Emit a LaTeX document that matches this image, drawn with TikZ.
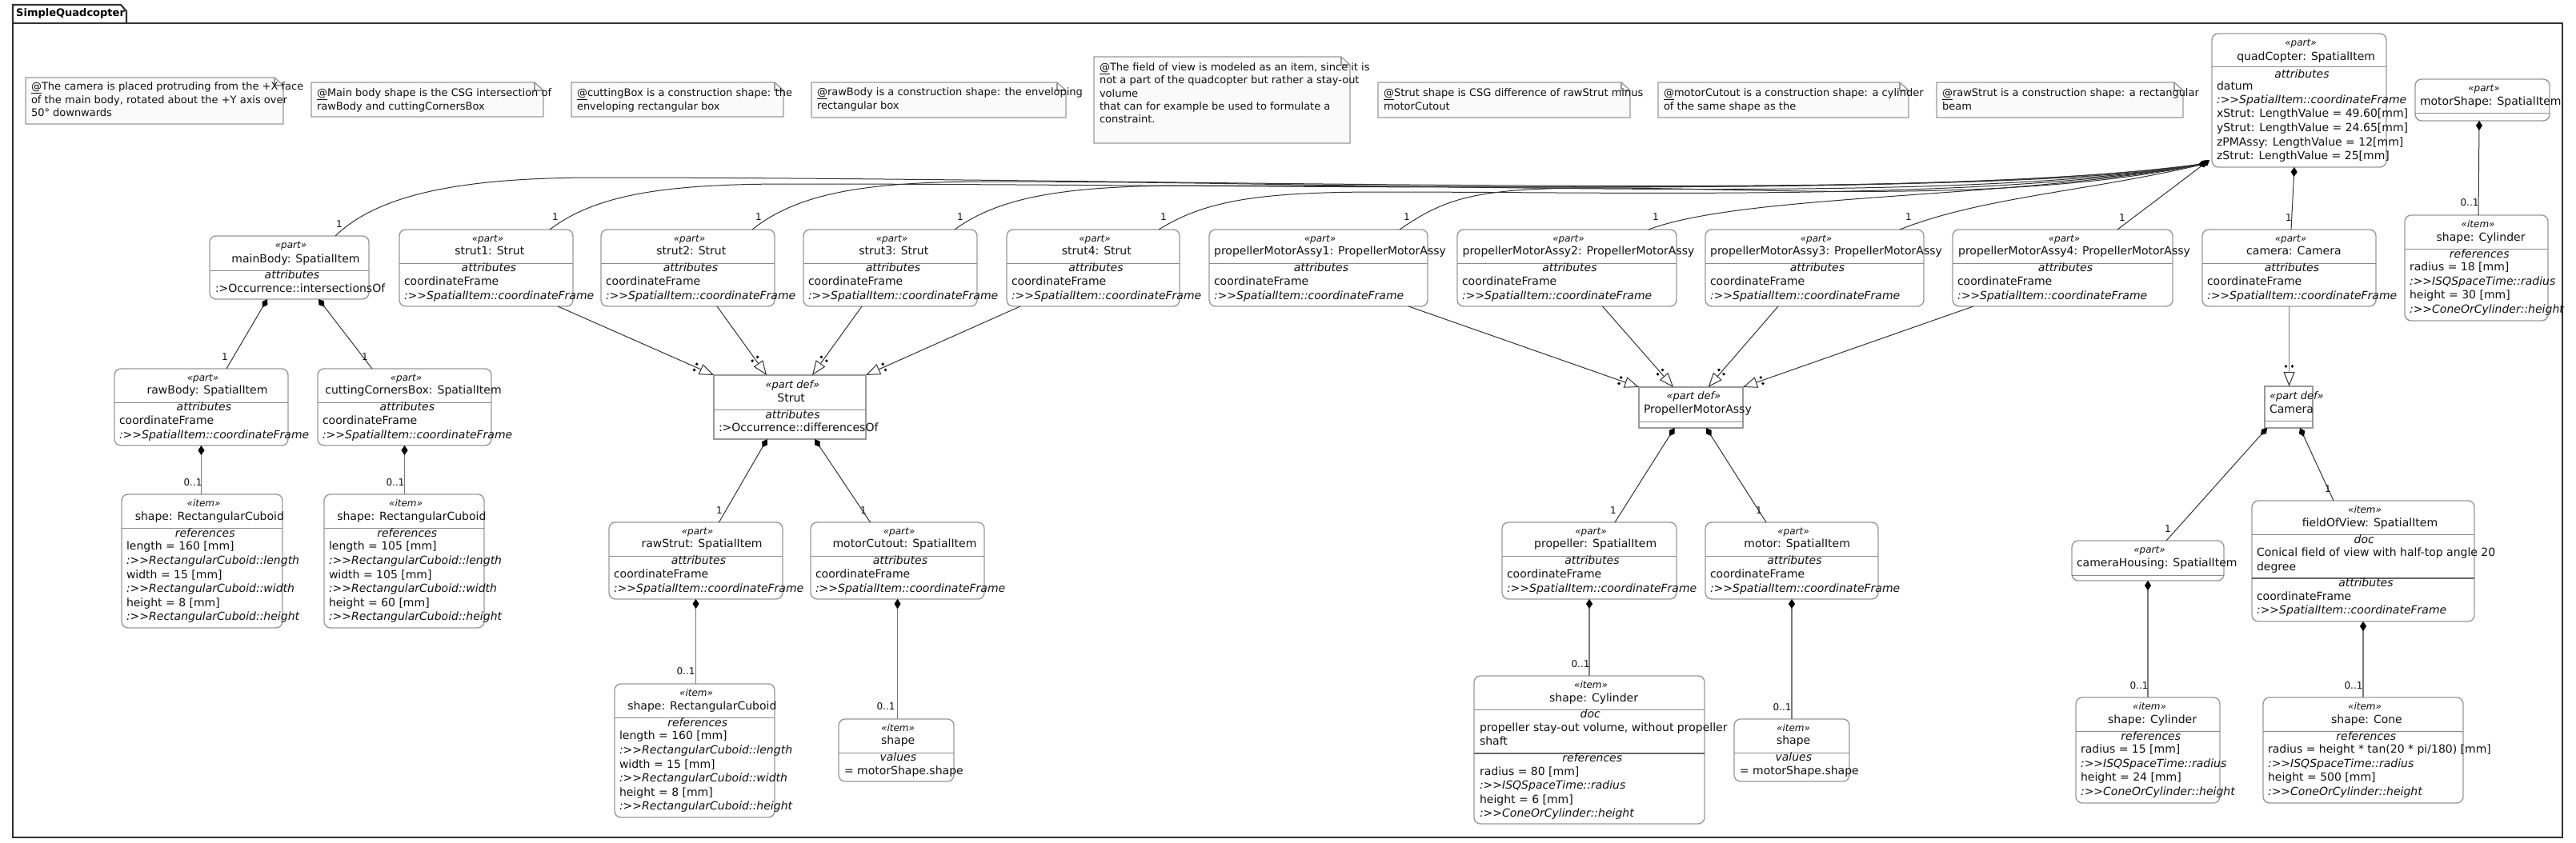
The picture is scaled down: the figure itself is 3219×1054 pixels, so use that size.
\documentclass[tikz,border=0pt]{standalone}
\usepackage{fontspec}
\setmainfont{DejaVu Sans}
\usetikzlibrary{arrows.meta,calc}

\definecolor{bx}{HTML}{9A9A9A}
\definecolor{dvc}{HTML}{8A8A8A}
\definecolor{dvd}{HTML}{666666}
\definecolor{lnc}{HTML}{333333}
\definecolor{lnv}{HTML}{7A7A7A}
\definecolor{nc}{HTML}{9A9A9A}
\definecolor{nf}{HTML}{FAFAFA}
\definecolor{frc}{HTML}{333333}
\definecolor{txc}{HTML}{111111}

\newsavebox\tbox
\newcounter{lbl}
\newcommand\DGT{>\kern0pt>}
\newcommand\FSt{\fontsize{12}{14}\selectfont\itshape}
\newcommand\FSd{\fontsize{13}{15}\selectfont\itshape}
\newcommand\FN{\fontsize{14}{17}\selectfont}
\newcommand\FI{\fontsize{14}{17}\selectfont\itshape}
\newcommand\FM{\fontsize{12}{14}\selectfont}
\newcommand\FNo{\fontsize{13}{16}\selectfont}

% centred text line: x1 x2 y font text
\newcommand\CT[5]{%
  \pgfinterruptpicture\global\setbox\tbox=\hbox{#4#5}\endpgfinterruptpicture
  \edef\wnum{\the\wd\tbox}%
  \pgfmathsetmacro\lx{max(#1+6,(#1+#2)/2-0.45*\wnum)}%
  \stepcounter{lbl}%
  \node[txt] (t\arabic{lbl}) at (\lx,#3) {#4#5};}
% left text line: x y font text
\newcommand\LT[4]{%
  \stepcounter{lbl}%
  \node[txt] (t\arabic{lbl}) at (#1,#2) {#3#4};}
% multiplicity label
\newcommand\ML[3]{%
  \stepcounter{lbl}%
  \node[mult] (m\arabic{lbl}) at (#1,#2) {#3};}
% box: style name x1 y1 x2 y2
\newcommand\BX[6]{%
  \node[#1, minimum width={#5-#3}, minimum height={#6-#4}] (#2) at ({(#3+#5)/2},{(#4+#6)/2}) {};}
% divider: [style] x1 x2 y
\newcommand\DV[4][dv]{\draw[#1] (#2,#4) -- (#3,#4);}
% note: name x1 y1 x2 y2
\newcommand\NOTE[5]{%
  \node[nbox, minimum width={#4-#2}, minimum height={#5-#3}] (#1) at ({(#2+#4)/2},{(#3+#5)/2}) {};
  \draw[noteline] (#1.south west) -- (#1.north west) -- ([xshift=-11pt]#1.north east) -- ([yshift=-10pt]#1.north east) -- (#1.south east) -- cycle;
  \draw[noteline, fill=none] ([xshift=-11pt]#1.north east) -- ([xshift=-11pt,yshift=-10pt]#1.north east) -- ([yshift=-10pt]#1.north east);}
% part with coordinateFrame attribute: name x1 y1 x2 title
\newcommand\PartBox[5]{%
  \BX{rbox}{#1}{#2}{#3}{#4}{#3+96}%
  \DV{#2}{#4}{#3+42}%
  \CT{#2}{#4}{#3+13}{\FSt}{«part»}%
  \CT{#2}{#4}{#3+29}{\FN}{#5}%
  \CT{#2}{#4}{#3+50}{\FI}{attributes}%
  \LT{#2+6}{#3+67}{\FN}{coordinateFrame}%
  \LT{#2+6}{#3+85}{\FI}{:\DGT SpatialItem::coordinateFrame}}
% cuboid item: name x1 y1 x2 L W H
\newcommand\CubBox[7]{%
  \BX{rbox}{#1}{#2}{#3}{#4}{#3+167}%
  \DV{#2}{#4}{#3+42}%
  \CT{#2}{#4}{#3+13}{\FSt}{«item»}%
  \CT{#2}{#4}{#3+30}{\FN}{shape: RectangularCuboid}%
  \CT{#2}{#4}{#3+51}{\FI}{references}%
  \LT{#2+6}{#3+67}{\FN}{length = #5 [mm]}%
  \LT{#2+6}{#3+85}{\FI}{:\DGT RectangularCuboid::length}%
  \LT{#2+6}{#3+103}{\FN}{width = #6 [mm]}%
  \LT{#2+6}{#3+120}{\FI}{:\DGT RectangularCuboid::width}%
  \LT{#2+6}{#3+138}{\FN}{height = #7 [mm]}%
  \LT{#2+6}{#3+155}{\FI}{:\DGT RectangularCuboid::height}}
% value item: name x1 y1 x2
\newcommand\ValBox[4]{%
  \BX{rbox}{#1}{#2}{#3}{#4}{#3+78}%
  \DV{#2}{#4}{#3+42}%
  \CT{#2}{#4}{#3+13}{\FSt}{«item»}%
  \CT{#2}{#4}{#3+29}{\FN}{shape}%
  \CT{#2}{#4}{#3+50}{\FI}{values}%
  \LT{#2+7}{#3+67}{\FN}{= motorShape.shape}}
% cylinder/cone item: name x1 y1 x2 r h title
\newcommand\CylBox[7]{%
  \BX{rbox}{#1}{#2}{#3}{#4}{#3+132}%
  \DV{#2}{#4}{#3+42}%
  \CT{#2}{#4}{#3+13}{\FSt}{«item»}%
  \CT{#2}{#4}{#3+30}{\FN}{#7}%
  \CT{#2}{#4}{#3+51}{\FI}{references}%
  \LT{#2+6}{#3+67}{\FN}{radius = #5 [mm]}%
  \LT{#2+6}{#3+85}{\FI}{:\DGT ISQSpaceTime::radius}%
  \LT{#2+6}{#3+102}{\FN}{height = #6 [mm]}%
  \LT{#2+6}{#3+120}{\FI}{:\DGT ConeOrCylinder::height}}
% curved composition to quadCopter: start mx my a c2x c2y
\newcommand\QC[6]{%
  \draw[compq] (#1) .. controls ($(#1)+(60,#3*0.8)$) and ($(#1)+(#2-150,#3)$) .. ($(#1)+(#2,#3)$)
     .. controls ($(#1)+(#2+#4,#3)$) and ($(Q)+(#5,#6)$) .. (Q);}
% defined-by connector: [style] from to
\newcommand\DefBy[3][defby]{%
  \draw[#1] (#2) -- (#3);
  \fill[dotc] ($(#3)!25pt!(#2)!4pt!90:(#2)$) circle (1.9pt);
  \fill[dotc] ($(#3)!25pt!(#2)!4pt!-90:(#2)$) circle (1.9pt);}

\begin{document}
\begin{tikzpicture}[x=1pt,y=-1pt,
  rbox/.style={draw=bx, line width=1.4pt, rounded corners=8pt, fill=white, inner sep=0pt, outer sep=0pt},
  dbox/.style={draw=bx, line width=1.4pt, fill=white, inner sep=0pt, outer sep=0pt},
  nbox/.style={draw=none, inner sep=0pt, outer sep=0pt},
  dv/.style={draw=dvc, line width=1pt},
  dvt/.style={draw=dvd, line width=2pt},
  txt/.style={anchor=mid west, inner sep=0pt, outer sep=0pt, text=txc},
  mult/.style={inner sep=0pt, outer sep=0pt, font=\FM, text=txc},
  comp/.style={draw=lnc, line width=1pt, {Diamond[length=12pt,width=8pt,color=black]}-},
  compv/.style={draw=lnv, line width=1.8pt, {Diamond[length=12pt,width=8pt,color=black,line width=0.5pt]}-},
  compq/.style={draw=lnc, line width=1pt, -{Diamond[length=12pt,width=8pt,color=black]}},
  defby/.style={draw=lnc, line width=1pt, -{Triangle[open,length=18pt,width=14pt,fill=white]}},
  defbyv/.style={draw=lnv, line width=1.8pt, -{Triangle[open,length=18pt,width=14pt,fill=white,color=lnc,line width=1pt]}},
  dotc/.style={fill=black},
  noteline/.style={draw=nc, line width=1.3pt, fill=nf},
  frame/.style={draw=frc, line width=2.2pt}]

\useasboundingbox (0,0) rectangle (3219,1054);
\fill[white] (0,0) rectangle (3219,1054);

% package frame
\draw[frame] (16,29) rectangle (3202,1047);
\draw[frame] (16,29) -- (16,6) -- (151,6) -- (158,14) -- (158,29);
\node[anchor=mid west, inner sep=0pt, font=\fontsize{13}{15}\selectfont\bfseries] (title) at (20,18) {SimpleQuadcopter};

% notes
\NOTE{n1}{32}{97}{354}{155}
\LT{39}{110}{\FNo}{\underline{@}The camera is placed protruding from the +X face}
\LT{39}{127}{\FNo}{of the main body, rotated about the +Y axis over}
\LT{39}{143}{\FNo}{50° downwards}
\NOTE{n2}{389}{103}{679}{146}
\LT{396}{118}{\FNo}{\underline{@}Main body shape is the CSG intersection of}
\LT{396}{135}{\FNo}{rawBody and cuttingCornersBox}
\NOTE{n3}{714}{103}{979}{146}
\LT{721}{118}{\FNo}{\underline{@}cuttingBox is a construction shape: the}
\LT{721}{135}{\FNo}{enveloping rectangular box}
\NOTE{n4}{1014}{103}{1332}{147}
\LT{1021}{117}{\FNo}{\underline{@}rawBody is a construction shape: the enveloping}
\LT{1021}{134}{\FNo}{rectangular box}
\NOTE{n5}{1367}{71}{1687}{179}
\LT{1374}{86}{\FNo}{\underline{@}The field of view is modeled as an item, since it is}
\LT{1374}{102}{\FNo}{not a part of the quadcopter but rather a stay-out}
\LT{1374}{119}{\FNo}{volume}
\LT{1374}{135}{\FNo}{that can for example be used to formulate a}
\LT{1374}{151}{\FNo}{constraint.}
\NOTE{n6}{1722}{103}{2037}{147}
\LT{1729}{118}{\FNo}{\underline{@}Strut shape is CSG difference of rawStrut minus}
\LT{1729}{135}{\FNo}{motorCutout}
\NOTE{n7}{2072}{103}{2385}{147}
\LT{2079}{118}{\FNo}{\underline{@}motorCutout is a construction shape: a cylinder}
\LT{2079}{135}{\FNo}{of the same shape as the}
\NOTE{n8}{2420}{103}{2728}{147}
\LT{2427}{118}{\FNo}{\underline{@}rawStrut is a construction shape: a rectangular}
\LT{2427}{135}{\FNo}{beam}

% quadCopter
\BX{rbox}{quadCopter}{2764}{42}{2982}{209}
\DV{2764}{2982}{84}
\CT{2764}{2982}{55}{\FSt}{«part»}
\CT{2764}{2982}{73}{\FN}{quadCopter: SpatialItem}
\CT{2764}{2982}{95}{\FI}{attributes}
\LT{2770}{110}{\FN}{datum}
\LT{2770}{127}{\FI}{:\DGT SpatialItem::coordinateFrame}
\LT{2770}{144}{\FN}{xStrut: LengthValue = 49.60[mm]}
\LT{2770}{162}{\FN}{yStrut: LengthValue = 24.65[mm]}
\LT{2770}{180}{\FN}{zPMAssy: LengthValue = 12[mm]}
\LT{2770}{197}{\FN}{zStrut: LengthValue = 25[mm]}

% motorShape
\BX{rbox}{motorShape}{3018}{99}{3186}{151}
\DV{3018}{3186}{142}
\CT{3018}{3186}{112}{\FSt}{«part»}
\CT{3018}{3186}{129}{\FN}{motorShape: SpatialItem}
\CylBox{shape9}{3005}{269}{3184}{18}{30}{shape: Cylinder}

% mainBody
\BX{rbox}{mainBody}{262}{295}{461}{374}
\DV{262}{461}{338}
\CT{262}{461}{308}{\FSt}{«part»}
\CT{262}{461}{326}{\FN}{mainBody: SpatialItem}
\CT{262}{461}{346}{\FI}{attributes}
\LT{269}{363}{\FN}{:>Occurrence::intersectionsOf}

% row of parts
\PartBox{strut1}{499}{287}{716}{strut1: Strut}
\PartBox{strut2}{751}{287}{968}{strut2: Strut}
\PartBox{strut3}{1004}{287}{1221}{strut3: Strut}
\PartBox{strut4}{1258}{287}{1474}{strut4: Strut}
\PartBox{pma1}{1511}{287}{1784}{propellerMotorAssy1: PropellerMotorAssy}
\PartBox{pma2}{1821}{287}{2095}{propellerMotorAssy2: PropellerMotorAssy}
\PartBox{pma3}{2131}{287}{2404}{propellerMotorAssy3: PropellerMotorAssy}
\PartBox{pma4}{2440}{287}{2715}{propellerMotorAssy4: PropellerMotorAssy}
\PartBox{camera}{2752}{287}{2969}{camera: Camera}

% mainBody subtree
\PartBox{rawBody}{143}{461}{360}{rawBody: SpatialItem}
\PartBox{cuttingCornersBox}{397}{461}{614}{cuttingCornersBox: SpatialItem}
\CubBox{shape1}{152}{618}{353}{160}{15}{8}
\CubBox{shape2}{405}{618}{605}{105}{105}{60}

% Strut definition
\BX{dbox}{Strut}{892}{469}{1082}{549}
\DV{892}{1082}{512}
\CT{892}{1082}{483}{\FSd}{«part def»}
\CT{892}{1082}{500}{\FN}{Strut}
\CT{892}{1082}{521}{\FI}{attributes}
\LT{898}{537}{\FN}{:>Occurrence::differencesOf}
\PartBox{rawStrut}{761}{653}{978}{rawStrut: SpatialItem}
\PartBox{motorCutout}{1013}{653}{1230}{motorCutout: SpatialItem}
\CubBox{shape3}{768}{855}{968}{160}{15}{8}
\ValBox{shape4}{1048}{899}{1192}

% PropellerMotorAssy definition
\BX{dbox}{PMA}{2048}{484}{2178}{535}
\DV{2048}{2178}{527}
\CT{2048}{2178}{497}{\FSd}{«part def»}
\CT{2048}{2178}{514}{\FN}{PropellerMotorAssy}
\PartBox{propeller}{1877}{653}{2095}{propeller: SpatialItem}
\PartBox{motor}{2131}{653}{2347}{motor: SpatialItem}
\BX{rbox}{shape5}{1842}{845}{2130}{1030}
\DV{1842}{2130}{887.5}
\DV[dvt]{1842}{2130}{942}
\CT{1842}{2130}{858}{\FSt}{«item»}
\CT{1842}{2130}{875}{\FN}{shape: Cylinder}
\CT{1842}{2130}{895}{\FI}{doc}
\LT{1849}{912}{\FN}{propeller stay-out volume, without propeller}
\LT{1849}{929}{\FN}{shaft}
\CT{1842}{2130}{950}{\FI}{references}
\LT{1849}{967}{\FN}{radius = 80 [mm]}
\LT{1849}{984}{\FI}{:\DGT ISQSpaceTime::radius}
\LT{1849}{1002}{\FN}{height = 6 [mm]}
\LT{1849}{1019}{\FI}{:\DGT ConeOrCylinder::height}
\ValBox{shape6}{2167}{899}{2311}

% Camera definition
\BX{dbox}{Camera}{2830}{483}{2890}{535}
\DV{2830}{2890}{526}
\CT{2830}{2890}{497}{\FSd}{«part def»}
\CT{2830}{2890}{514}{\FN}{Camera}
\BX{rbox}{cameraHousing}{2589}{676}{2779}{726}
\DV{2589}{2779}{719}
\CT{2589}{2779}{689}{\FSt}{«part»}
\CT{2589}{2779}{706}{\FN}{cameraHousing: SpatialItem}
\BX{rbox}{fieldOfView}{2814}{626}{3092}{777}
\DV{2814}{3092}{668}
\DV[dvt]{2814}{3092}{722.5}
\CT{2814}{3092}{639}{\FSt}{«item»}
\CT{2814}{3092}{656}{\FN}{fieldOfView: SpatialItem}
\CT{2814}{3092}{677}{\FI}{doc}
\LT{2820}{693}{\FN}{Conical field of view with half-top angle 20}
\LT{2820}{711}{\FN}{degree}
\CT{2814}{3092}{731}{\FI}{attributes}
\LT{2820}{748}{\FN}{coordinateFrame}
\LT{2820}{765}{\FI}{:\DGT SpatialItem::coordinateFrame}
\CylBox{shape7}{2594}{872}{2774}{15}{24}{shape: Cylinder}
\CylBox{shape8}{2828}{872}{3078}{height * tan(20 * pi/180)}{500}{shape: Cone}

% ---------- connectors ----------
\coordinate (Q) at ([xshift=-5pt,yshift=5pt]quadCopter.south west);
\coordinate (c0) at ([xshift=57.5pt]mainBody.north);
\coordinate (c1) at ([xshift=79.5pt]strut1.north);
\coordinate (c2) at ([xshift=80.5pt]strut2.north);
\coordinate (c3) at ([xshift=80.5pt]strut3.north);
\coordinate (c4) at ([xshift=82pt]strut4.north);
\coordinate (c5) at ([xshift=101.5pt]pma1.north);
\coordinate (c6) at ([xshift=102pt]pma2.north);
\coordinate (c7) at ([xshift=106.5pt]pma3.north);
\QC{c0}{330}{-73}{700}{-300}{50}
\QC{c1}{300}{-57}{600}{-320}{45}
\QC{c2}{300}{-60}{500}{-340}{55}
\QC{c3}{300}{-55}{400}{-300}{40}
\QC{c4}{280}{-47}{300}{-280}{48}
\QC{c5}{250}{-52}{200}{-260}{52}
\draw[compq] (c6) .. controls ($(c6)+(120,-45)$) and ($(Q)+(-250,45)$) .. (Q);
\draw[compq] (c7) .. controls ($(c7)+(100,-40)$) and ($(Q)+(-150,35)$) .. (Q);
\draw[compq] ([xshift=68.5pt]pma4.north) -- ([xshift=-3pt,yshift=9pt]quadCopter.south west);
\draw[comp] ([xshift=-6pt]quadCopter.south) -- ([xshift=2.5pt]camera.north);
\draw[comp] ([xshift=-4pt]motorShape.south) -- ([xshift=2.5pt]shape9.north);

\draw[comp] ([xshift=-27.5pt]mainBody.south) -- ([xshift=31.5pt]rawBody.north);
\draw[comp] ([xshift=36.5pt]mainBody.south) -- ([xshift=-40.5pt]cuttingCornersBox.north);
\draw[compv] (rawBody.south) -- (rawBody.south |- shape1.north);
\draw[compv] (cuttingCornersBox.south) -- (cuttingCornersBox.south |- shape2.north);
\draw[comp] ([xshift=-28.4pt]Strut.south) -- ([xshift=29pt]rawStrut.north);
\draw[comp] ([xshift=31pt]Strut.south) -- ([xshift=-34pt]motorCutout.north);
\draw[compv] (rawStrut.south) -- (rawStrut.south |- shape3.north);
\draw[compv] (motorCutout.south) -- (motorCutout.south |- shape4.north);
\draw[comp] ([xshift=-20.5pt]PMA.south) -- ([xshift=32pt]propeller.north);
\draw[comp] ([xshift=19pt]PMA.south) -- ([xshift=-32pt]motor.north);
\draw[compv] (propeller.south) -- (propeller.south |- shape5.north);
\draw[compv] (motor.south) -- (motor.south |- shape6.north);
\draw[comp] ([xshift=-27pt]Camera.south) -- ([xshift=23pt]cameraHousing.north);
\draw[comp] ([xshift=14pt]Camera.south) -- ([xshift=-37pt]fieldOfView.north);
\draw[compv] (cameraHousing.south) -- (cameraHousing.south |- shape7.north);
\draw[compv] (fieldOfView.south) -- (fieldOfView.south |- shape8.north);

% defined-by
\coordinate (a1) at ([xshift=89.5pt]strut1.south);
\coordinate (b1) at (Strut.north west);
\coordinate (a2) at ([xshift=36.5pt]strut2.south);
\coordinate (b2) at ([xshift=-29pt]Strut.north);
\coordinate (a3) at ([xshift=-35.5pt]strut3.south);
\coordinate (b3) at ([xshift=28pt]Strut.north);
\coordinate (a4) at ([xshift=-91pt]strut4.south);
\coordinate (b4) at (Strut.north east);
\coordinate (a5) at ([xshift=112.5pt]pma1.south);
\coordinate (b5) at (PMA.north west);
\coordinate (a6) at ([xshift=44.5pt]pma2.south);
\coordinate (b6) at ([xshift=-22pt]PMA.north);
\coordinate (a7) at ([xshift=-45.5pt]pma3.south);
\coordinate (b7) at ([xshift=21.6pt]PMA.north);
\coordinate (a8) at ([xshift=-111.5pt]pma4.south);
\coordinate (b8) at (PMA.north east);
\coordinate (a9) at (camera.south);
\coordinate (b9) at (camera.south |- Camera.north);
\DefBy{a1}{b1}
\DefBy{a2}{b2}
\DefBy{a3}{b3}
\DefBy{a4}{b4}
\DefBy{a5}{b5}
\DefBy{a6}{b6}
\DefBy{a7}{b7}
\DefBy{a8}{b8}
\DefBy[defbyv]{a9}{b9}

% multiplicities
\ML{424}{280}{1}
\ML{694}{271}{1}
\ML{948}{271}{1}
\ML{1200}{271}{1}
\ML{1454}{271}{1}
\ML{1758}{271}{1}
\ML{2069}{271}{1}
\ML{2385}{271}{1}
\ML{2652}{272}{1}
\ML{2860}{272}{1}
\ML{3086}{253}{0..1}
\ML{281}{446}{1}
\ML{456}{446}{1}
\ML{241}{603}{0..1}
\ML{494}{603}{0..1}
\ML{899}{638}{1}
\ML{1079}{638}{1}
\ML{857}{839}{0..1}
\ML{1107}{883}{0..1}
\ML{2016}{638}{1}
\ML{2198}{638}{1}
\ML{1975}{830}{0..1}
\ML{2227}{884}{0..1}
\ML{2709}{661}{1}
\ML{2909}{611}{1}
\ML{2673}{857}{0..1}
\ML{2941}{857}{0..1}
\end{tikzpicture}
\end{document}
